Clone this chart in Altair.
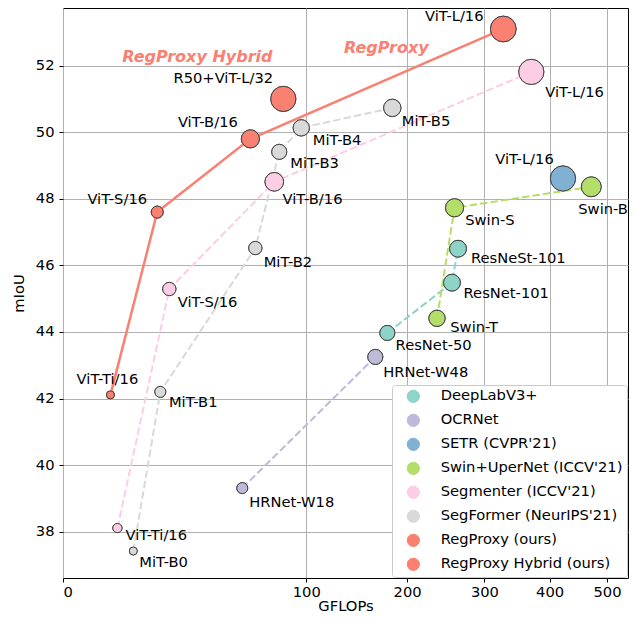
import altair as alt
import pandas as pd

FONT = "DejaVu Sans"

SERIES = ["DeepLabV3+", "OCRNet", "SETR (CVPR'21)", "Swin+UperNet (ICCV'21)",
          "Segmenter (ICCV'21)", "SegFormer (NeurIPS'21)", "RegProxy (ours)",
          "RegProxy Hybrid (ours)"]
COLORS = ["#8dd3c7", "#bebada", "#80b1d3", "#b3de69", "#fccde5", "#d9d9d9",
          "#fa8072", "#fa8072"]

# ---- data (GFLOPs, mIoU) ----
deeplab_names = ["ResNet-50", "ResNet-101", "ResNeSt-101"]
deeplab_gflops = [177.7, 255.6, 263.6]
deeplab_miou = [43.97, 45.48, 46.50]

ocr_names = ["HRNet-W18", "HRNet-W48"]
ocr_gflops = [54.3, 164.8]
ocr_miou = [39.31, 43.25]

setr_names = ["ViT-L/16"]
setr_gflops = [422.3]
setr_miou = [48.61]

swin_names = ["Swin-T", "Swin-S", "Swin-B"]
swin_gflops = [236.3, 259.0, 471.5]
swin_miou = [44.41, 47.73, 48.36]

segmenter_names = ["ViT-Ti/16", "ViT-S/16", "ViT-B/16", "ViT-L/16"]
segmenter_gflops = [5.0, 19.1, 75.4, 370.5]
segmenter_miou = [38.11, 45.29, 48.51, 51.81]

segformer_names = ["MiT-B0", "MiT-B1", "MiT-B2", "MiT-B3", "MiT-B4", "MiT-B5"]
segformer_gflops = [8.35, 16.0, 62.5, 79.0, 95.9, 183.2]
segformer_miou = [37.42, 42.20, 46.52, 49.41, 50.13, 50.73]

regproxy_names = ["ViT-Ti/16", "ViT-S/16", "ViT-B/16", "ViT-L/16"]
regproxy_gflops = [3.8, 15.0, 59.3, 327.5]
regproxy_miou = [42.11, 47.60, 49.80, 53.10]

hybrid_names = ["R50+ViT-L/32"]
hybrid_gflops = [82.0]
hybrid_miou = [51.0]

# marker radii (px), per point
deeplab_r = [9, 10, 10]
ocr_r = [6.7, 9]
setr_r = [14.7]
swin_r = [9.7, 10.7, 11.7]
segmenter_r = [5.7, 8, 11, 14.7]
segformer_r = [5, 6.7, 8, 9, 9.7, 10.3]
regproxy_r = [5, 7.3, 10.7, 15]
hybrid_r = [14.7]

# label offsets (dx, dy, align) per point
deeplab_lab = [(8.3, 12.7, "left"), (11.6, 11.3, "left"), (13, 10.6, "left")]
ocr_lab = [(7, 14.4, "left"), (8, 16, "left")]
setr_lab = [(-38.5, -18.7, "center")]
swin_lab = [(13.3, 10, "left"), (10.7, 13.7, "left"), (-13, 23, "left")]
segmenter_lab = [(8, 8, "left"), (8.4, 14, "left"), (8.3, 18.4, "left"), (14, 21, "left")]
segformer_lab = [(6, 12, "left"), (8.6, 10.7, "left"), (8.3, 15, "left"),
                 (11, 12, "left"), (11.6, 12.7, "left"), (9.4, 13.7, "left")]
regproxy_lab = [(-3, -15, "center"), (-40, -12, "center"), (-42.5, -15.6, "center"),
                (-49, -12, "center")]
hybrid_lab = [(-60, -20, "center")]

X_TICKS = [0, 100, 200, 300, 400, 500]
Y_TICKS = [38, 40, 42, 44, 46, 48, 50, 52]

groups = [
    (SERIES[0], deeplab_names, deeplab_gflops, deeplab_miou, deeplab_r, deeplab_lab),
    (SERIES[1], ocr_names, ocr_gflops, ocr_miou, ocr_r, ocr_lab),
    (SERIES[2], setr_names, setr_gflops, setr_miou, setr_r, setr_lab),
    (SERIES[3], swin_names, swin_gflops, swin_miou, swin_r, swin_lab),
    (SERIES[4], segmenter_names, segmenter_gflops, segmenter_miou, segmenter_r, segmenter_lab),
    (SERIES[5], segformer_names, segformer_gflops, segformer_miou, segformer_r, segformer_lab),
    (SERIES[6], regproxy_names, regproxy_gflops, regproxy_miou, regproxy_r, regproxy_lab),
    (SERIES[7], hybrid_names, hybrid_gflops, hybrid_miou, hybrid_r, hybrid_lab),
]

rows = []
labels = []
uid = 0
for s, names, gf, mi, rr, lab in groups:
    for k, (n, g, m, r, l) in enumerate(zip(names, gf, mi, rr, lab)):
        rows.append({"id": uid, "series": s, "grp": s, "name": n, "gflops": g, "miou": m,
                     "idx": k, "area": 3.14159 * (r - 0.5) ** 2})
        labels.append((uid, l))
        uid += 1
df = pd.DataFrame(rows)

xenc = alt.X("gflops:Q",
             scale=alt.Scale(type="sqrt", domain=[0, 539.3], nice=False, zero=False),
             axis=alt.Axis(values=X_TICKS, title="GFLOPs", labelPadding=2, titlePadding=0))
yenc = alt.Y("miou:Q",
             scale=alt.Scale(domain=[36.61, 53.73], nice=False, zero=False),
             axis=alt.Axis(values=Y_TICKS, title="mIoU", labelPadding=5, titlePadding=9))

base = alt.Chart(df)

# legend-carrying point layer (drawn first), repeated on top below
points_legend = base.mark_circle(opacity=1, stroke="#444444", strokeWidth=1).encode(
    x=xenc, y=yenc,
    color=alt.Color("series:N", scale=alt.Scale(domain=SERIES, range=COLORS),
                    legend=alt.Legend(title=None, orient="bottom-right", offset=1,
                                      symbolType="circle", symbolSize=150,
                                      symbolStrokeColor="#444444", symbolStrokeWidth=1,
                                      labelFont=FONT, labelFontSize=14.7, labelColor="black",
                                      labelLimit=280,
                                      labelOffset=20, rowPadding=7, padding=4,
                                      symbolOffset=10,
                                      strokeColor="#cccccc", fillColor="white",
                                      cornerRadius=3)),
    size=alt.Size("area:Q", scale=None),
)

dashed = base.transform_filter(
    alt.FieldOneOfPredicate(field="grp", oneOf=[SERIES[0], SERIES[1], SERIES[3], SERIES[4], SERIES[5]])
).mark_line(strokeWidth=2, strokeDash=[7.4, 3.2]).encode(
    x=xenc, y=yenc,
    stroke=alt.Stroke("grp:N", scale=alt.Scale(domain=SERIES, range=COLORS), legend=None),
    order="idx:Q",
)

solid = base.transform_filter(alt.datum.grp == SERIES[6]).mark_line(
    strokeWidth=2.5, color="#fa8072"
).encode(x=xenc, y=yenc, order="idx:Q")

points_top = base.mark_circle(opacity=1, stroke="#444444", strokeWidth=1).encode(
    x=xenc, y=yenc,
    fill=alt.Fill("grp:N", scale=alt.Scale(domain=SERIES, range=COLORS), legend=None),
    size=alt.Size("area:Q", scale=None),
)

label_layers = []
for uid_, (dx, dy, al) in labels:
    label_layers.append(
        base.transform_filter(alt.datum.id == uid_).mark_text(
            dx=dx, dy=dy, align=al, baseline="middle", font=FONT, fontSize=14.7, color="black"
        ).encode(x=xenc, y=yenc, text="name:N")
    )

hyb_id = int(df[df.series == SERIES[7]].id.iloc[0])
rp_id = int(df[(df.series == SERIES[6]) & (df.name == "ViT-L/16")].id.iloc[0])
ann_hybrid = base.transform_filter(alt.datum.id == hyb_id).mark_text(
    dx=-86, dy=-42, align="center", baseline="middle", font=FONT, fontSize=16,
    fontWeight="bold", fontStyle="italic", color="#fa8072", text="RegProxy Hybrid"
).encode(x=xenc, y=yenc)
ann_rp = base.transform_filter(alt.datum.id == rp_id).mark_text(
    dx=-117, dy=19, align="center", baseline="middle", font=FONT, fontSize=16,
    fontWeight="bold", fontStyle="italic", color="#fa8072", text="RegProxy"
).encode(x=xenc, y=yenc)

chart = alt.layer(points_legend, dashed, solid, points_top, *label_layers,
                  ann_hybrid, ann_rp).properties(
    width=565, height=570,
    autosize=alt.AutoSizeParams(type="none"),
    padding={"left": 55, "top": 0, "right": 1, "bottom": 37},
).configure_view(stroke="black", strokeWidth=1).configure_axis(
    domain=False, grid=True, gridColor="#b0b0b0", gridWidth=1,
    tickColor="black", tickSize=4, tickWidth=1,
    labelFont=FONT, labelFontSize=14.7, labelColor="black",
    titleFont=FONT, titleFontSize=14.7, titleFontWeight="normal", titleColor="black",
)

chart.save("out.html", embed_options={"renderer": "svg", "actions": False})
